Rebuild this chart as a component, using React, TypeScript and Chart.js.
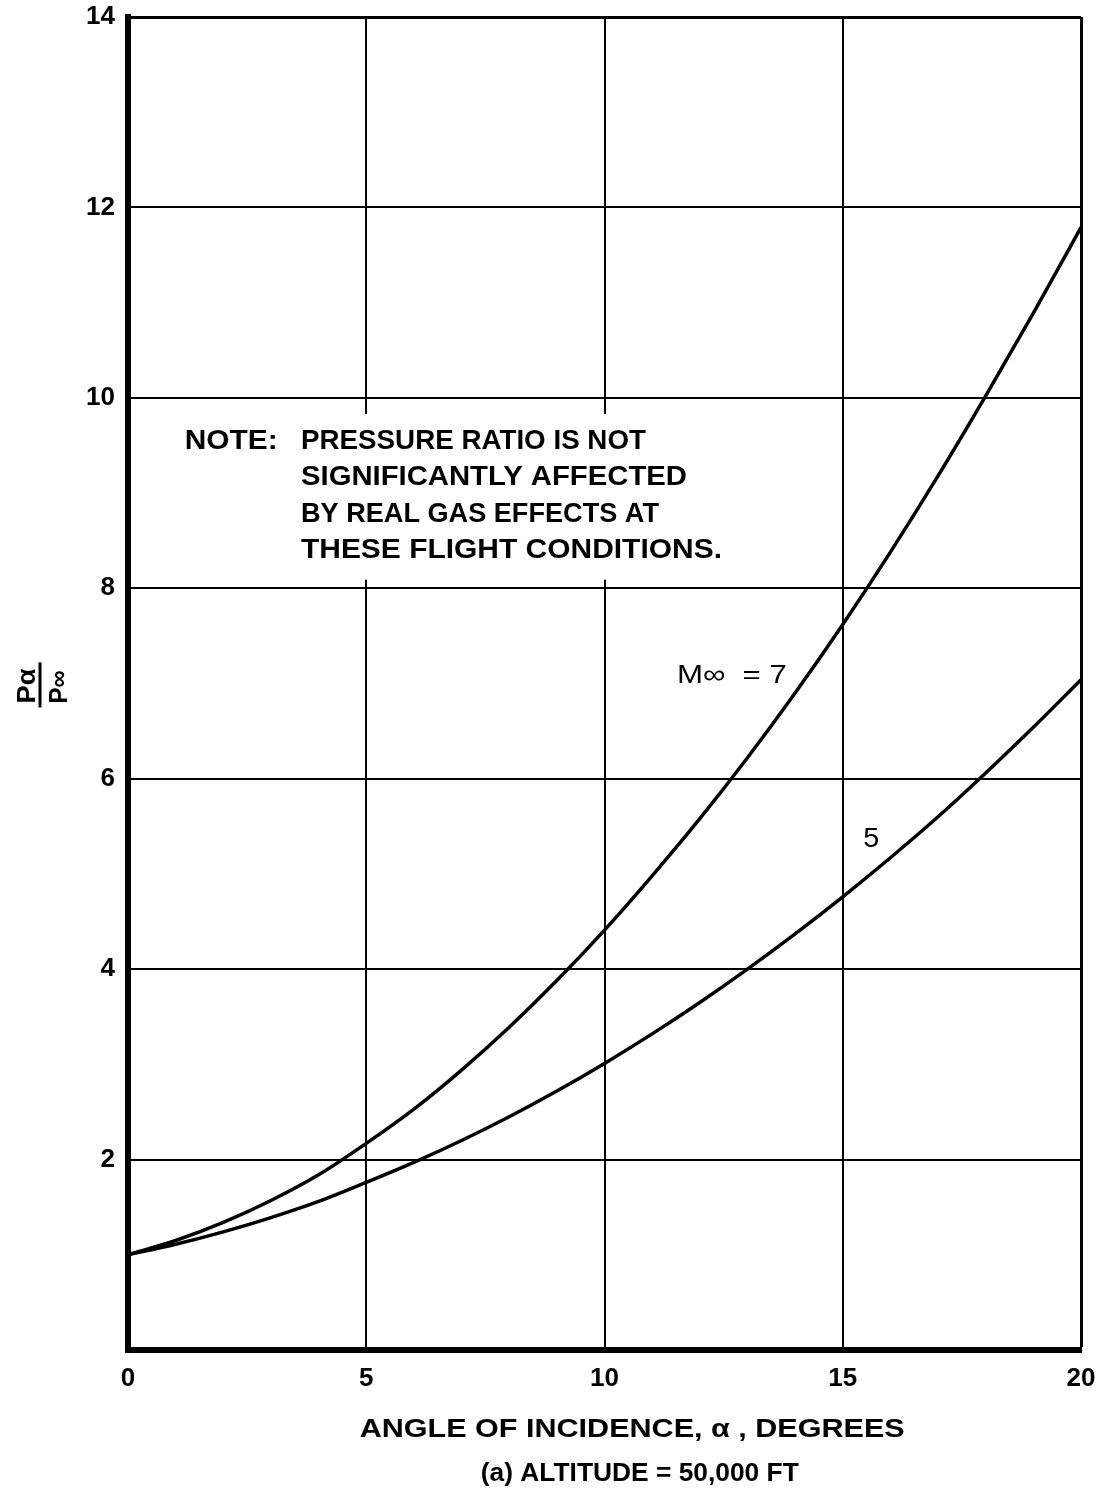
import React, { useEffect, useRef } from "react";
import { Chart, registerables } from "chart.js";

Chart.register(...registerables);

// ---- data ----
const angleDeg = [0, 1, 2, 3, 4, 5, 6, 7, 8, 9, 10, 11, 12, 13, 14, 15, 16, 17, 18, 19, 20];
const ratioMach7 = [1.0, 1.15, 1.34, 1.57, 1.84, 2.17, 2.53, 2.94, 3.39, 3.88, 4.41, 4.98, 5.58, 6.22, 6.9, 7.62, 8.38, 9.18, 10.02, 10.89, 11.79];
const ratioMach5 = [1.0, 1.11, 1.24, 1.39, 1.56, 1.76, 1.97, 2.2, 2.45, 2.72, 3.01, 3.32, 3.65, 4.0, 4.37, 4.76, 5.17, 5.6, 6.06, 6.54, 7.04];
const seriesNames = ["M\u221E = 7", "M\u221E = 5"];
const xTickStep = 5;
const yTickStep = 2;
const xRange = [0, 20];
const yRange = [0, 14];
const noteHead = "NOTE:";
const noteLines = [
  "PRESSURE RATIO IS NOT",
  "SIGNIFICANTLY AFFECTED",
  "BY REAL GAS EFFECTS AT",
  "THESE FLIGHT CONDITIONS.",
];
const curveLabels = ["M\u221E  = 7", "5"];
const xTitle = "ANGLE OF INCIDENCE, \u03B1 , DEGREES";
const subTitle = "(a) ALTITUDE = 50,000 FT";
const yTitleTop = "P\u03B1";
const yTitleBottom = "P\u221E";

const FONT = '"Liberation Sans", Arial, sans-serif';

function fitText(ctx: CanvasRenderingContext2D, text: string, x: number, y: number, width: number, font: string) {
  ctx.save();
  ctx.font = font;
  const w = ctx.measureText(text).width;
  ctx.translate(x, y);
  ctx.scale(width / w, 1);
  ctx.textAlign = "left";
  ctx.textBaseline = "alphabetic";
  ctx.fillStyle = "#000";
  ctx.fillText(text, 0, 0);
  ctx.restore();
}

const annotations = {
  id: "annotations",
  beforeDatasetsDraw(chart: any) {
    const { ctx, scales } = chart;
    const x = scales.x, y = scales.y;
    // white backing behind the note (interrupts grid lines)
    const l = x.getPixelForValue(1.05), r = x.getPixelForValue(12.0);
    const t = y.getPixelForValue(9.83), b = y.getPixelForValue(8.09);
    ctx.save();
    ctx.fillStyle = "#fff";
    ctx.fillRect(l, t, r - l, b - t);
    ctx.restore();
  },
  afterDraw(chart: any) {
    const { ctx, scales, chartArea } = chart;
    const x = scales.x, y = scales.y;
    const noteFont = `bold 28px ${FONT}`;
    const baseVals = [9.46, 9.08, 8.70, 8.32];
    const widths = [345, 386, 358, 421];
    fitText(ctx, noteHead, x.getPixelForValue(1.19), y.getPixelForValue(baseVals[0]), 93, noteFont);
    noteLines.forEach((s, i) => {
      fitText(ctx, s, x.getPixelForValue(3.63), y.getPixelForValue(baseVals[i]), widths[i], noteFont);
    });
    // curve labels
    fitText(ctx, curveLabels[0], x.getPixelForValue(11.52), y.getPixelForValue(7.01), 110, `26px ${FONT}`);
    fitText(ctx, curveLabels[1], x.getPixelForValue(15.43), y.getPixelForValue(5.28), 16, `28px ${FONT}`);
    // axis titles
    const titleW = 545;
    const tc = x.getPixelForValue(10.58);
    fitText(ctx, xTitle, tc - titleW / 2, chartArea.bottom + 87, titleW, `bold 26px ${FONT}`);
    const subW = 318;
    const sc = x.getPixelForValue(10.74);
    fitText(ctx, subTitle, sc - subW / 2, chartArea.bottom + 131, subW, `bold 26px ${FONT}`);
    // y title as rotated fraction
    ctx.save();
    const cx = chartArea.left - 88, cy = y.getPixelForValue(6.98);
    ctx.translate(cx, cy);
    ctx.rotate(-Math.PI / 2);
    ctx.strokeStyle = "#000";
    ctx.lineWidth = 3;
    ctx.beginPath();
    ctx.moveTo(-22, 0);
    ctx.lineTo(23, 0);
    ctx.stroke();
    fitText(ctx, yTitleTop, -18, -5, 35, `bold 26px ${FONT}`);
    fitText(ctx, yTitleBottom, -18, 27, 33, `bold 26px ${FONT}`);
    ctx.restore();
  },
};

export default function App() {
  const ref = useRef<HTMLCanvasElement | null>(null);
  useEffect(() => {
    if (!ref.current) return;
    const chart = new Chart(ref.current, {
      type: "line",
      data: {
        datasets: [
          {
            label: seriesNames[0],
            data: angleDeg.map((a, i) => ({ x: a, y: ratioMach7[i] })),
            borderColor: "#000",
            borderWidth: 3.5,
            pointRadius: 0,
            cubicInterpolationMode: "monotone",
            fill: false,
          },
          {
            label: seriesNames[1],
            data: angleDeg.map((a, i) => ({ x: a, y: ratioMach5[i] })),
            borderColor: "#000",
            borderWidth: 3.5,
            pointRadius: 0,
            cubicInterpolationMode: "monotone",
            fill: false,
          },
        ],
      },
      options: {
        responsive: false,
        animation: false,
        layout: { padding: { top: 17, right: 28, left: 0, bottom: 0 } },
        plugins: { legend: { display: false }, tooltip: { enabled: false } },
        scales: {
          x: {
            type: "linear",
            min: xRange[0],
            max: xRange[1],
            ticks: {
              stepSize: xTickStep,
              color: "#000",
              font: { family: FONT, size: 26, weight: "bold" },
              padding: 13,
              maxRotation: 0,
            },
            grid: {
              color: "#000",
              lineWidth: (c: any) => (c.tick && c.tick.value === xRange[1] ? 3 : 2),
              drawTicks: false,
            },
            border: { display: true, color: "#000", width: 6 },
            afterFit: (s: any) => {
              s.height = 142;
              s.paddingLeft = 0;
              s.paddingRight = 0;
            },
          },
          y: {
            type: "linear",
            min: yRange[0],
            max: yRange[1],
            ticks: {
              stepSize: yTickStep,
              color: "#000",
              font: { family: FONT, size: 26, weight: "bold" },
              padding: 13,
              callback: (v: any) => (v === 0 ? "" : String(v)),
            },
            grid: {
              color: "#000",
              lineWidth: (c: any) => (c.tick && c.tick.value === yRange[1] ? 3 : 2),
              drawTicks: false,
            },
            border: { display: true, color: "#000", width: 6 },
            afterFit: (s: any) => {
              s.width = 128;
              s.paddingTop = 0;
              s.paddingBottom = 0;
            },
          },
        },
      },
      plugins: [annotations],
    });
    return () => chart.destroy();
  }, []);
  return (
    <div style={{ position: "absolute", left: 0, top: 0, width: 1109, height: 1492, background: "#fff" }}>
      <canvas ref={ref} width={1109} height={1492} style={{ width: 1109, height: 1492, display: "block" }} />
    </div>
  );
}
